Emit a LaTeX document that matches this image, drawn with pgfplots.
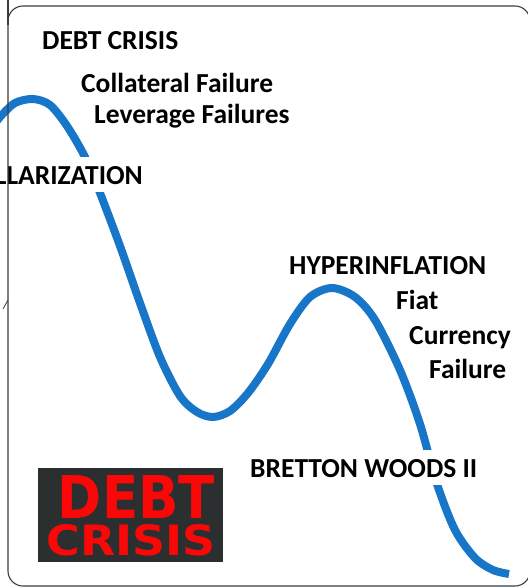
\documentclass[border=0pt]{standalone}
\usepackage{fontspec}
\setmainfont{Carlito}
\newfontfamily\condfont{DejaVu Sans Condensed}
\usepackage{graphicx}
\usepackage{pgfplots}
\pgfplotsset{compat=1.18}
\definecolor{curveblue}{RGB}{24,118,200}
\definecolor{boxgray}{RGB}{43,47,47}
\definecolor{boxred}{RGB}{250,8,8}
\definecolor{framegray}{RGB}{60,60,60}
\newcommand\lab{\fontsize{27.5}{32}\selectfont\bfseries}
\tikzset{lbl/.style={inner sep=0pt, text=black, font=\lab},
  wlbl/.style={lbl, fill=white, inner xsep=2pt, text height=27pt, text depth=8pt}}
\pgfplotstableread{
x y
-8 128
0 117
15 103
33 99
50 105
67 126
85 157
100 193
120 246
140 303
160 357
180 396
197 412
213 417
230 411
248 393
268 364
290 324
310 297
332 288
355 297
375 320
400 370
420 424
437 484
455 530
475 558
493 570
509 574
}\curve
\begin{document}
\begin{tikzpicture}
\begin{axis}[
  at={(0pt,0pt)}, anchor=south west,
  width=527pt, height=588pt, scale only axis,
  xmin=0, xmax=527, ymin=0, ymax=588, y dir=reverse,
  hide axis, clip=false,
]
\addplot[curveblue, line width=8pt, smooth, line cap=butt] table[x=x,y=y] {\curve};
\fill[boxgray] (38,468) rectangle (223,562);
\node[inner sep=0pt] at (136.5,497) {\resizebox{157pt}{43pt}{\condfont\bfseries\color{boxred}DEBT}};
\node[inner sep=0pt] at (131.5,540) {\resizebox{169pt}{31pt}{\condfont\bfseries\color{boxred}CRISIS}};
\node[lbl, anchor=base west] at (42,50) {DEBT CRISIS};
\node[lbl, anchor=base west] at (81,93) {Collateral Failure};
\node[lbl, anchor=base west] at (94,124) {Leverage Failures};
\node[wlbl, anchor=base east] at (145,184) {DOLLARIZATION};
\node[lbl, anchor=base west] at (289,274) {HYPERINFLATION};
\node[lbl, anchor=base west] at (396,309) {Fiat};
\node[lbl, anchor=base west] at (409,344) {Currency};
\node[lbl, anchor=base west] at (429,378) {Failure};
\node[wlbl, anchor=base west] at (248,477) {BRETTON WOODS II};
\draw[framegray, line width=1.1pt, rounded corners=15pt] (8,6) rectangle (530,586);
\draw[framegray, line width=1.1pt] (8,-2) -- (8,25);
\draw[framegray, line width=0.8pt] (8,300) -- (3,309);
\end{axis}
\pgfresetboundingbox
\path[use as bounding box] (0pt,0pt) rectangle (527pt,588pt);
\end{tikzpicture}
\end{document}
